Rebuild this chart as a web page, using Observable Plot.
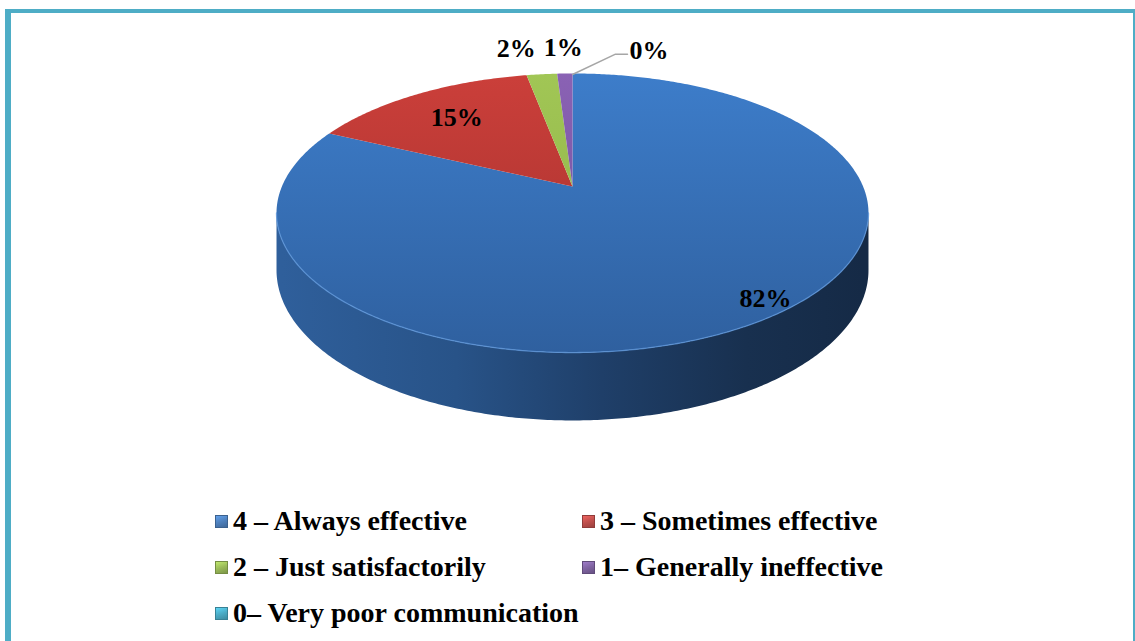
<!DOCTYPE html>
<html><head><meta charset="utf-8">
<script src="https://cdn.jsdelivr.net/npm/d3@7"></script>
<script src="https://cdn.jsdelivr.net/npm/@observablehq/plot@0.6"></script>
<style>
body{margin:0;background:#fff;}
#wrap{position:relative;width:1135px;height:641px;overflow:hidden;font-family:"Liberation Serif","Times New Roman","DejaVu Serif",serif;}
#frame{position:absolute;left:5px;top:9px;width:1122px;height:700px;border-left:6px solid #4eadc6;border-top:4px solid #4eadc6;border-right:2px solid #4eadc6;box-sizing:content-box;}
#chart{position:absolute;left:0;top:0;}
#legend{position:absolute;left:215px;top:498px;display:grid;grid-template-columns:367px 320px;}
.item{display:flex;align-items:center;height:46px;font-weight:bold;font-size:28px;color:#000;white-space:nowrap;font-family:"Liberation Serif","Times New Roman","DejaVu Serif",serif;}
.sw{width:13px;height:13px;margin-right:5px;flex:none;box-sizing:border-box;}
</style></head>
<body><div id="wrap"><div id="frame"></div><div id="chart"></div><div id="legend"></div></div>
<script>
// ---- data ----
const categories = ["4 – Always effective", "3 – Sometimes effective", "2 – Just satisfactorily", "1– Generally ineffective", "0– Very poor communication"];
const values = [82, 15, 2, 1, 0];
const labels = ["82%", "15%", "2%", "1%", "0%"];

// ---- style ----
const topLight = ["#3d7dca", "#cb3f3a", "#a1c655", "#8a62b4", "#4fb4cf"];
const topDark  = ["#2f609f", "#a2302d", "#8cb046", "#6f4d99", "#3a96ae"];
const swatch   = ["#4f81bd", "#c0504d", "#9bbb59", "#8064a2", "#4bacc6"];
const FONT = "'Liberation Serif', 'Times New Roman', 'DejaVu Serif', serif";

const W = 1135, H = 480;
const cx = 572, cy = 186, A = 290.6, B = 134.5, k = 0.19, D = 55;
function proj(theta, r, h) {
  const u = r * Math.sin(theta), v = r * Math.cos(theta), w = 1 + k * v;
  return {x: cx + A * u / w, y: cy - B * v / w + h * D / w};
}
const total = d3.sum(values);
const slices = [];
let acc = 0;
values.forEach((v, i) => {
  const a0 = acc / total * 2 * Math.PI; acc += v;
  const a1 = acc / total * 2 * Math.PI;
  slices.push({i, a0, a1, mid: (a0 + a1) / 2, value: v});
});
function arc(a0, a1, r, h) {
  const n = Math.max(2, Math.ceil(Math.abs(a1 - a0) / 0.01));
  return d3.range(n + 1).map(j => proj(a0 + (a1 - a0) * j / n, r, h));
}
const thR = Math.acos(-k), thL = 2 * Math.PI - thR;
const sidePts = [...arc(thR, thL, 1, 0), ...arc(thL, thR, 1, 1)];
const shadowPts = sidePts.map(p => ({x: p.x + 3, y: p.y + 4}));
const rimPts = arc(thR, thL, 1, 0);

const marks = [];
marks.push(Plot.line(shadowPts, {x: "x", y: "y", fill: "#000", fillOpacity: 0.35, stroke: "none", ariaLabel: "shadow"}));
marks.push(Plot.line(sidePts, {x: "x", y: "y", fill: "url(#gSide)", stroke: "none"}));
slices.forEach(s => {
  if (s.value <= 0) return;
  const pts = [proj(0, 0, 0), ...arc(s.a0, s.a1, 1, 0), proj(0, 0, 0)];
  marks.push(Plot.line(pts, {x: "x", y: "y", fill: `url(#gTop${s.i})`, stroke: "none"}));
});
marks.push(Plot.line(rimPts, {x: "x", y: "y", stroke: "#5d95d8", strokeWidth: 1.3, strokeOpacity: 0.8}));

// labels
const inside = [], outsideEnd = [], outsideMid = [];
slices.forEach(s => {
  if (s.value >= 10) {
    const big = s.value > 50;
    const p = proj(s.mid, big ? 0.92 : 0.72, 0);
    inside.push({x: p.x + (big ? 25 : 0), y: p.y + (big ? -10 : 0), t: labels[s.i]});
  } else if (s.value > 0) {
    const p = proj(s.mid, 1.25, 0);
    (Math.sin(s.mid) < -0.1 ? outsideEnd : outsideMid).push({x: p.x, y: p.y - 3, t: labels[s.i]});
  }
});
const zero = slices.filter(s => s.value <= 0).map(s => {
  const p0 = proj(s.mid, 1.0, 0);
  const p1 = {x: p0.x + 43, y: proj(s.mid, 1.21, 0).y};
  const p2 = {x: p1.x + 12, y: p1.y};
  return {pts: [{x: p0.x, y: p0.y + 1}, p1, p2], t: labels[s.i], x: p2.x + 2, y: p2.y - 4};
});
zero.forEach(z => marks.push(Plot.line(z.pts, {x: "x", y: "y", stroke: "#a6a6a6", strokeWidth: 1.5})));
const txt = {x: "x", y: "y", text: "t", fontSize: 26, fontWeight: "bold", fontFamily: FONT, fill: "#000"};
marks.push(Plot.text(inside, txt));
marks.push(Plot.text(outsideEnd, {...txt, textAnchor: "end"}));
marks.push(Plot.text(outsideMid, txt));
marks.push(Plot.text(zero, {...txt, textAnchor: "start"}));

const chart = Plot.plot({
  width: W, height: H, margin: 0,
  x: {domain: [0, W], range: [0, W], axis: null},
  y: {domain: [0, H], range: [0, H], axis: null},
  style: {background: "transparent", overflow: "visible", fontFamily: FONT},
  marks
});
// gradients
const svg = d3.select(chart);
const defs = svg.insert("defs", ":first-child");
const side = defs.append("linearGradient").attr("id", "gSide").attr("gradientUnits", "userSpaceOnUse")
  .attr("x1", cx - A).attr("x2", cx + A).attr("y1", 0).attr("y2", 0);
[["0", "#2f5f9b"], ["0.3", "#285388"], ["0.55", "#1f3f69"], ["0.8", "#18304f"], ["1", "#152a46"]]
  .forEach(([o, c]) => side.append("stop").attr("offset", o).attr("stop-color", c));
values.forEach((v, i) => {
  const g = defs.append("linearGradient").attr("id", `gTop${i}`).attr("gradientUnits", "userSpaceOnUse")
    .attr("x1", 0).attr("x2", 0).attr("y1", cy - B / (1 + k)).attr("y2", cy + B / (1 - k));
  g.append("stop").attr("offset", 0).attr("stop-color", topLight[i]);
  g.append("stop").attr("offset", 1).attr("stop-color", topDark[i]);
});
const f = defs.append("filter").attr("id", "blur").attr("x", "-10%").attr("y", "-10%").attr("width", "120%").attr("height", "130%");
f.append("feGaussianBlur").attr("stdDeviation", 3);
svg.select('[aria-label="shadow"]').attr("filter", "url(#blur)");
document.getElementById("chart").appendChild(chart);

// legend
const leg = d3.select("#legend");
categories.forEach((c, i) => {
  const it = leg.append("div").attr("class", "item");
  it.append("div").attr("class", "sw")
    .style("background", `linear-gradient(160deg, ${d3.color(swatch[i]).brighter(0.6)} 0%, ${swatch[i]} 50%, ${d3.color(swatch[i]).darker(0.6)} 100%)`)
    .style("border", `1px solid ${d3.color(swatch[i]).darker(0.8)}`);
  it.append("span").text(c);
});
</script></body></html>
